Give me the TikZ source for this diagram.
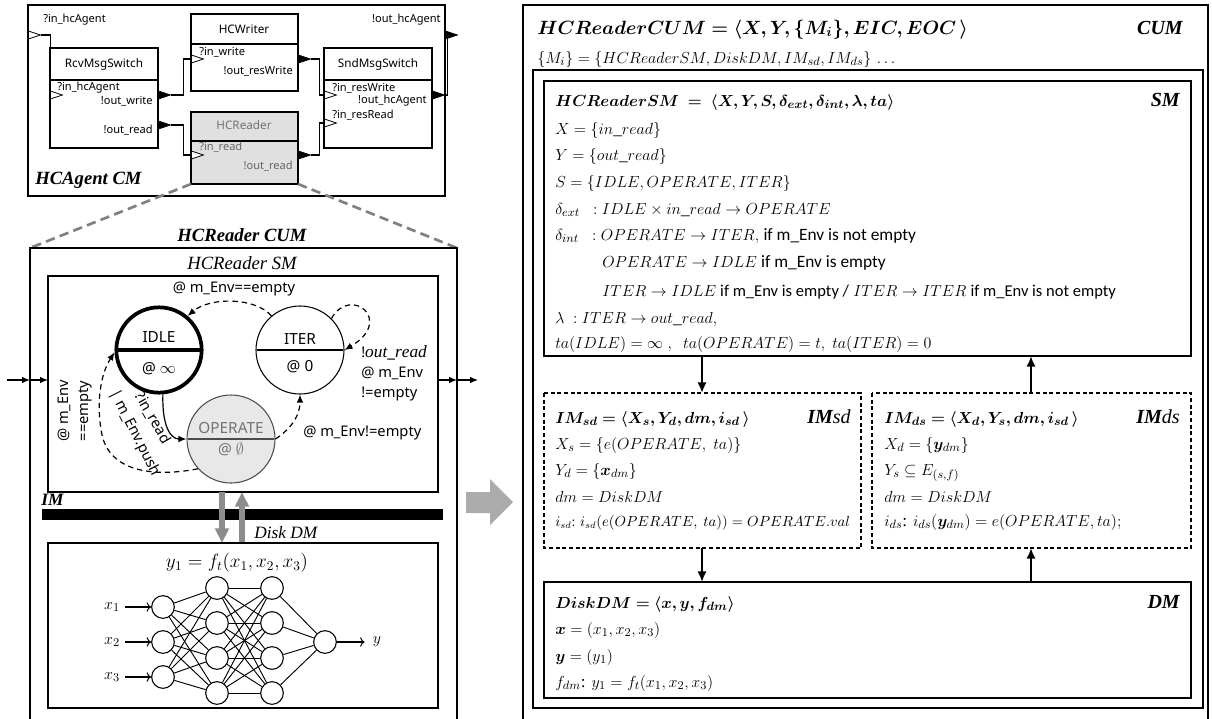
\documentclass[tikz,border=0pt]{standalone}
\usepackage{amsmath,amssymb,bm}
\usepackage{fontspec}
\setmainfont{Liberation Serif}
\newfontfamily\nsans{Noto Sans}
\newfontfamily\csans{Carlito}
\usetikzlibrary{arrows.meta,positioning,calc,shapes.geometric,shapes.multipart}
\tikzset{
  ip/.style={isosceles triangle,isosceles triangle stretches,draw,fill=white,
    inner sep=0pt,minimum height=9pt,minimum width=6pt,anchor=lower side,line width=0.6pt},
  op/.style={ip,fill=black},
  mdl/.style={draw,line width=0.9pt},
  wire/.style={line width=0.8pt},
  pl/.style={font=\nsans\fontsize{8.3}{9}\selectfont,inner sep=0pt},
  ttl/.style={font=\nsans\bfseries\fontsize{8.8}{10}\selectfont,inner sep=0pt},
  stt/.style={circle split,draw,line width=0.8pt,minimum size=66pt,inner sep=2pt,
    font=\nsans\fontsize{11.5}{12}\selectfont},
  lbl/.style={font=\nsans\fontsize{11}{15}\selectfont,inner sep=0pt},
  arr/.style={-{Latex[length=6pt,width=5pt]}},
  dsh/.style={dash pattern=on 4pt off 3pt},
  bi/.style={font=\bfseries\itshape\fontsize{14}{16}\selectfont,inner sep=0pt},
  neu/.style={circle,draw,line width=0.8pt,minimum size=17pt,inner sep=0pt},
  ln/.style={anchor=base west,inner sep=0pt,font=\fontsize{13}{16}\selectfont},
  lns/.style={ln,font=\fontsize{10.5}{12}\selectfont},
  tag/.style={anchor=base east,inner sep=0pt,font=\bfseries\itshape\fontsize{15}{17}\selectfont},
  blk/.style={line width=1.8pt,-{Latex[length=8pt,width=7pt]}},
  garr/.style={draw=black!45,line width=4.5pt,-{Triangle[length=11pt,width=10pt]}},
  imbox/.style={draw,line width=0.8pt,dash pattern=on 3pt off 2pt},
}

\begin{document}
\begin{tikzpicture}[x=0.75pt,y=-0.75pt]
\useasboundingbox (0,0) rectangle (1212,718);

% coupled model
\draw[mdl] (28,5) rectangle (445,196);
\node[pl,anchor=west] (cmInL) at (43,20) {?in\_hcAgent};
\node[pl,anchor=east] (cmOutL) at (441,20) {!out\_hcAgent};
\node[ip] (cmIn) at (28,35) {};
\node[op] (cmOut) at (445,35) {};
\node[bi,anchor=west] (cmT) at (35,180) {HCAgent CM};

\draw[mdl] (50,48) rectangle (158,148) (50,80) -- (158,80);
\node[ttl] (rcv) at (104,64) {RcvMsgSwitch};
\node[pl,anchor=west] (rcvInL) at (57,88) {?in\_hcAgent};
\node[pl,anchor=east] (rcvOwL) at (153,101) {!out\_write};
\node[pl,anchor=east] (rcvOrL) at (153,130) {!out\_read};
\node[ip] (rcvIn) at (50,95) {};
\node[op] (rcvOw) at (158,95) {};
\node[op] (rcvOr) at (158,125) {};

\draw[mdl] (191,14) rectangle (298,91) (191,44) -- (298,44);
\node[ttl] (hcw) at (244,29) {HCWriter};
\node[pl,anchor=west] (hcwInL) at (199,52) {?in\_write};
\node[pl,anchor=east] (hcwOutL) at (293,71) {!out\_resWrite};
\node[ip] (hcwIn) at (191,59) {};
\node[op] (hcwOut) at (298,59) {};

\draw[mdl,fill=black!12] (191,112) rectangle (298,184);
\draw[mdl] (191,141) -- (298,141);
\node[ttl,text=black!55] (hcr) at (244,125) {HCReader};
\node[pl,anchor=west,text=black!60] (hcrInL) at (199,147) {?in\_read};
\node[pl,anchor=east,text=black!60] (hcrOutL) at (293,166) {!out\_read};
\node[ip] (hcrIn) at (191,155) {};
\node[op] (hcrOut) at (298,155) {};

\draw[mdl] (324,48) rectangle (432,148) (324,80) -- (432,80);
\node[ttl] (snd) at (378,64) {SndMsgSwitch};
\node[pl,anchor=west] (sndIwL) at (332,88) {?in\_resWrite};
\node[pl,anchor=east] (sndOutL) at (427,101) {!out\_hcAgent};
\node[pl,anchor=west] (sndIrL) at (332,115) {?in\_resRead};
\node[ip] (sndIw) at (324,95) {};
\node[ip] (sndIr) at (324,123) {};
\node[op] (sndOut) at (432,95) {};

\draw[wire] (cmIn.apex) -- ++(9,0) |- (rcvIn.lower side);
\draw[wire] (rcvOw.apex) -- ++(12,0) |- (hcwIn.lower side);
\draw[wire] (rcvOr.apex) -- ++(12,0) |- (hcrIn.lower side);
\draw[wire] (hcwOut.apex) -- ++(8,0) |- (sndIw.lower side);
\draw[wire] (hcrOut.apex) -- ++(8,0) |- (sndIr.lower side);
\draw[wire] (sndOut.apex) -- ++(2,0) |- (cmOut.lower side);

% zoom lines
\draw[black!50,line width=2pt,dash pattern=on 7pt off 4pt] (191,184) -- (30,248) (298,184) -- (457,248);

% HCReader CUM
\draw[mdl] (30,722) -- (30,248) -- (457,248) -- (457,722);
\node[bi] (cumT) at (242,235) {HCReader CUM};
\node[font=\itshape\fontsize{14}{16}\selectfont,inner sep=0pt] (smT) at (242,263) {HCReader SM};
\draw[mdl] (48,276) rectangle (438,492);

\node[stt,line width=2.8pt,minimum size=64pt] (idle) at (159,350)
  {\raisebox{2pt}{IDLE}\nodepart{lower}\raisebox{-14pt}{@ $\infty$}};
\node[stt] (iter) at (300,350)
  {\raisebox{2pt}{ITER}\nodepart{lower}\raisebox{-14pt}{@ 0}};
\node[stt,fill=black!9,draw=black!70,text=black!55] (oper) at (231,439)
  {\raisebox{2pt}{OPERATE}\nodepart{lower}\raisebox{-8pt}{@ $\emptyset$}};

\draw[dsh,arr,line width=0.9pt] (iter.130) .. controls (255,297) and (210,297) .. (idle.50);
\node[lbl] (l1) at (234,289) {@ m\_Env==empty};
\draw[dsh,arr,line width=0.9pt] (iter.45) .. controls (350,285) and (395,320) .. (iter.east);
\node[lbl,anchor=north west,align=left] (l2) at (361,345)
  {!{\fontsize{13}{15}\selectfont$\mathit{out\_read}$}\\@ m\_Env\\!=empty};
\draw[arr,line width=0.9pt] (idle.275) .. controls (162,425) and (170,439) .. (oper.west);
\node[lbl,rotate=-60] (l3) at (153,418) {?in\_read};
\draw[dsh,arr,line width=0.9pt] (oper.222) .. controls (150,478) and (110,470) .. (102,435)
  .. controls (96,405) and (100,375) .. (idle.183);
\node[lbl,rotate=90,align=center] (l4) at (75,411) {@ m\_Env\\==empty};
\node[lbl,rotate=-63] (l5) at (135,433) {| m\_Env.push};
\draw[dsh,arr,line width=0.9pt] (oper.east) .. controls (292,428) and (300,415) .. (iter.south);
\node[lbl,anchor=west] (l6) at (303,433) {@ m\_Env!=empty};

\coordinate (en0) at (7,380);
\coordinate (en1) at (30,380);
\coordinate (en2) at (48,380);
\coordinate (ex0) at (438,380);
\coordinate (ex1) at (457,380);
\coordinate (ex2) at (478,380);
\draw[arr,line width=0.9pt] (en0) -- (en1);
\draw[arr,line width=0.9pt] (en1) -- (en2);
\draw[arr,line width=0.9pt] (ex0) -- (ex1);
\draw[arr,line width=0.9pt] (ex1) -- (ex2);

% IM bar and DM
\node[bi,anchor=west,font=\bfseries\itshape\fontsize{13}{15}\selectfont] (imT) at (41,500) {IM};
\fill (42,509) rectangle (443,520);
\coordinate (g1) at (222,492);
\coordinate (g2) at (222,543);
\coordinate (g3) at (242,543);
\coordinate (g4) at (242,492);
\draw[garr] (g1) -- (g2);
\draw[garr] (g3) -- (g4);
\node[anchor=west,inner sep=0pt,font=\itshape\fontsize{13}{15}\selectfont] (dmT) at (254,533) {Disk DM};

\draw[mdl] (48,543) rectangle (438,708);
\node[font=\fontsize{14}{16}\selectfont] (fT) at (237,563) {$y_1=f_t(x_1,x_2,x_3)$};
\foreach \i/\y in {1/607,2/642,3/677}{
  \node[neu] (a\i) at (163,\y) {};
  \node[inner sep=0pt,font=\fontsize{13}{15}\selectfont] (x\i) at (112,\y) {$x_\i$};
  \draw[->,line width=0.8pt,shorten <=4pt] (x\i) -- (a\i);
}
\foreach \j/\y in {1/588,2/623,3/658,4/693}{
  \node[neu] (b\j) at (217,\y) {};
  \node[neu] (c\j) at (272,\y) {};
}
\node[neu] (o) at (325,642) {};
\node[inner sep=0pt,font=\fontsize{13}{15}\selectfont] (yo) at (377,642) {$y$};
\foreach \i in {1,2,3} \foreach \j in {1,...,4} \draw[line width=0.7pt] (a\i) -- (b\j);
\foreach \i in {1,...,4} \foreach \j in {1,...,4} \draw[line width=0.7pt] (b\i) -- (c\j);
\foreach \j in {1,...,4} \draw[line width=0.7pt] (c\j) -- (o);
\draw[->,line width=0.8pt,shorten >=6pt] (o) -- (yo);

% big arrow
\fill[black!33] (466,492) -- (490,492) -- (490,479) -- (513,502) -- (490,525) -- (490,513) -- (466,513) -- cycle;

% formal spec
\draw[mdl] (523,722) |- (1208,5) -- (1208,722);
\node[ln,font=\fontsize{14.5}{16}\selectfont] (cum1) at (537,34) {$\bm{HCReaderCUM=\langle X,Y,\{M_i\},EIC,EOC\,\rangle}$};
\node[tag] (cumL) at (1183,34) {CUM};
\node[ln] (cum2) at (537,63) {$\{M_i\}=\{HCReaderSM,DiskDM,IM_{sd},IM_{ds}\}\,\dots$};
\draw[mdl] (533,70) rectangle (1203,708);

\draw[mdl] (544,81) rectangle (1191,356);
\node[ln] (sm1) at (555,106) {$\bm{HCReaderSM\ =\ \langle X,Y,S,\delta_{ext},\delta_{int},\lambda,ta\rangle}$};
\node[tag] (smL) at (1180,106) {SM};
\node[ln] (sm2) at (555,134) {$X=\{in\_read\}$};
\node[ln] (sm3) at (555,160) {$Y=\{out\_read\}$};
\node[ln] (sm4) at (555,187) {$S=\{IDLE,OPERATE,ITER\}$};
\node[ln] (sm5) at (555,214) {$\delta_{ext}\ \ :IDLE\times in\_read\rightarrow OPERATE$};
\node[ln] (sm6) at (555,240) {$\delta_{int}\ \ :OPERATE\rightarrow ITER,$ {\csans if m\_Env is not empty}};
\node[ln] (sm7) at (602,267) {$OPERATE\rightarrow IDLE$ {\csans if m\_Env is empty}};
\node[ln,font=\fontsize{12.4}{16}\selectfont] (sm8) at (602,296) {$ITER\rightarrow IDLE$ {\csans if m\_Env is empty /} $ITER\rightarrow ITER$ {\csans if m\_Env is not empty}};
\node[ln] (sm9) at (555,323) {$\lambda\ :ITER\rightarrow out\_read,$};
\node[ln] (sm10) at (555,348) {$ta(IDLE)=\infty\ ,\ \ ta(OPERATE)=t,\ ta(ITER)=0$};

\draw[imbox] (544,393) rectangle (861,548);
\node[ln] (sd1) at (555,423) {$\bm{IM_{sd}=\langle X_s,Y_d,dm,i_{sd}\,\rangle}$};
\node[tag] (sdL) at (851,423) {IM\textmd{sd}};
\node[ln] (sd2) at (555,449) {$X_s=\{e(OPERATE,\ ta)\}$};
\node[ln] (sd3) at (555,475) {$Y_d=\{\bm{x}_{dm}\}$};
\node[ln] (sd4) at (555,502) {$dm=DiskDM$};
\node[lns] (sd5) at (555,526) {$i_{sd}$: $i_{sd}(e(OPERATE,\ ta))=OPERATE.val$};

\draw[imbox] (872,393) rectangle (1191,548);
\node[ln] (ds1) at (884,423) {$\bm{IM_{ds}=\langle X_d,Y_s,dm,i_{sd}\,\rangle}$};
\node[tag] (dsL) at (1180,423) {IM\textmd{ds}};
\node[ln] (ds2) at (884,449) {$X_d=\{\bm{y}_{dm}\}$};
\node[ln] (ds3) at (884,475) {$Y_s\subseteq E_{(s,f)}$};
\node[ln] (ds4) at (884,502) {$dm=DiskDM$};
\node[ln] (ds5) at (884,526) {$i_{ds}$: $i_{ds}(\bm{y}_{dm})=e(OPERATE,ta);$};

\draw[mdl] (544,582) rectangle (1191,698);
\node[ln] (dm1) at (555,608) {$\bm{DiskDM=\langle x,y,f_{dm}\rangle}$};
\node[tag] (dmL) at (1180,608) {DM};
\node[ln] (dm2) at (555,634) {$\bm{x}=(x_1,x_2,x_3)$};
\node[ln] (dm3) at (555,661) {$\bm{y}=(y_1)$};
\node[ln] (dm4) at (555,687) {$f_{dm}$: $y_1=f_t(x_1,x_2,x_3)$};

\coordinate (smS1) at (702,356);
\coordinate (sdN) at (702,393);
\coordinate (dsN) at (1031,393);
\coordinate (smS2) at (1031,356);
\coordinate (sdS) at (702,548);
\coordinate (dmN1) at (702,582);
\coordinate (dmN2) at (1031,582);
\coordinate (dsS) at (1031,548);
\draw[blk] (smS1) -- (sdN);
\draw[blk] (dsN) -- (smS2);
\draw[blk] (sdS) -- (dmN1);
\draw[blk] (dmN2) -- (dsS);
\end{tikzpicture}
\end{document}
